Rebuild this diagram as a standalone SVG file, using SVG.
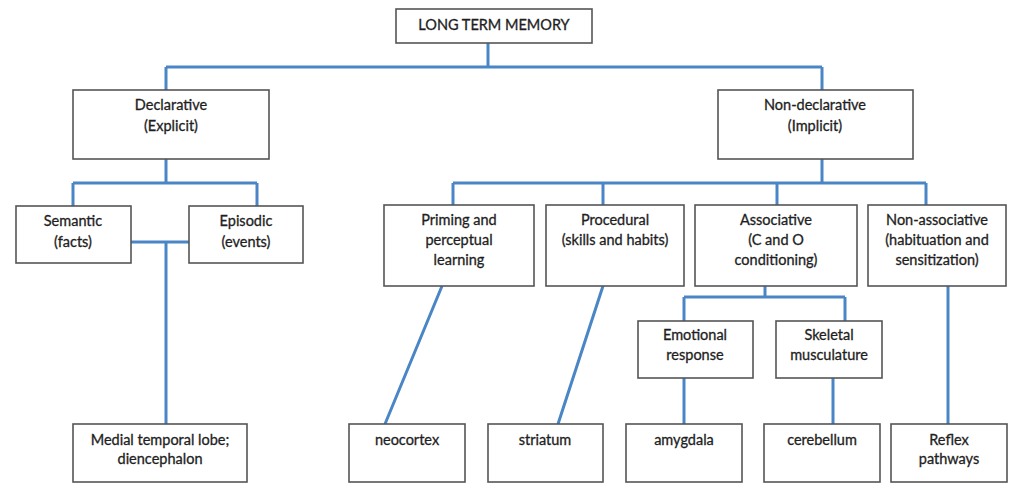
<svg xmlns="http://www.w3.org/2000/svg" width="1022" height="486" viewBox="0 0 1022 486">
<style>
.box{fill:#fff;stroke:#555;stroke-width:1.6}
.t{font-family:Lato,"Liberation Sans",sans-serif;font-size:14.5px;fill:#1e1e1e;stroke:#1e1e1e;stroke-width:0.3;text-anchor:middle}
.c{fill:none;stroke:#4a86c5;stroke-width:3}
</style>
<rect width="1022" height="486" fill="#fff"/>
<g id="connectors" class="c">
<path d="M488 43V67M166 67H822M166 67V90M822 67V90"/>
<path d="M166 159V183M73 183H257M73 183V206M257 183V206"/>
<path d="M131 242H189M166 242V424"/>
<path d="M822 159V183M453 183H926M453 183V205M603 183V205M777 183V205M926 183V205"/>
<path d="M442 286L385 424M603 286L558 424"/>
<path d="M765 286V297M684 297H845M684 297V321M845 297V321"/>
<path d="M684 378V424M833 378V424M948 286V424"/>
</g>
<g id="ltm"><rect class="box" x="396" y="9" width="196" height="34"/><text class="t" x="494" y="30">LONG TERM MEMORY</text></g>
<g id="declarative"><rect class="box" x="73" y="90" width="196" height="69"/><text class="t" x="171" y="110">Declarative</text><text class="t" x="171" y="131">(Explicit)</text></g>
<g id="nondeclarative"><rect class="box" x="718" y="90" width="195" height="69"/><text class="t" x="815" y="110">Non-declarative</text><text class="t" x="815" y="131">(Implicit)</text></g>
<g id="semantic"><rect class="box" x="16" y="206" width="115" height="57"/><text class="t" x="73" y="226">Semantic</text><text class="t" x="73" y="247">(facts)</text></g>
<g id="episodic"><rect class="box" x="189" y="206" width="114" height="57"/><text class="t" x="246" y="226">Episodic</text><text class="t" x="246" y="247">(events)</text></g>
<g id="priming"><rect class="box" x="384" y="205" width="150" height="81"/><text class="t" x="459" y="225">Priming and</text><text class="t" x="459" y="245">perceptual</text><text class="t" x="459" y="265">learning</text></g>
<g id="procedural"><rect class="box" x="546" y="205" width="138" height="81"/><text class="t" x="615" y="225">Procedural</text><text class="t" x="615" y="245">(skills and habits)</text></g>
<g id="associative"><rect class="box" x="695" y="205" width="162" height="81"/><text class="t" x="776" y="225">Associative</text><text class="t" x="776" y="245">(C and O</text><text class="t" x="776" y="265">conditioning)</text></g>
<g id="nonassociative"><rect class="box" x="868" y="205" width="138" height="81"/><text class="t" x="937" y="225">Non-associative</text><text class="t" x="937" y="245">(habituation and</text><text class="t" x="937" y="265">sensitization)</text></g>
<g id="emotional"><rect class="box" x="638" y="321" width="115" height="57"/><text class="t" x="695" y="340">Emotional</text><text class="t" x="695" y="360">response</text></g>
<g id="skeletal"><rect class="box" x="776" y="321" width="106" height="57"/><text class="t" x="829" y="340">Skeletal</text><text class="t" x="829" y="360">musculature</text></g>
<g id="medial"><rect class="box" x="73" y="424" width="174" height="58"/><text class="t" x="160" y="445">Medial temporal lobe;</text><text class="t" x="160" y="464">diencephalon</text></g>
<g id="neocortex"><rect class="box" x="349" y="424" width="116" height="58"/><text class="t" x="407" y="445">neocortex</text></g>
<g id="striatum"><rect class="box" x="488" y="424" width="115" height="58"/><text class="t" x="545" y="445">striatum</text></g>
<g id="amygdala"><rect class="box" x="626" y="424" width="116" height="58"/><text class="t" x="684" y="445">amygdala</text></g>
<g id="cerebellum"><rect class="box" x="764" y="424" width="116" height="58"/><text class="t" x="822" y="445">cerebellum</text></g>
<g id="reflex"><rect class="box" x="891" y="424" width="116" height="58"/><text class="t" x="949" y="445">Reflex</text><text class="t" x="949" y="464">pathways</text></g>
</svg>
